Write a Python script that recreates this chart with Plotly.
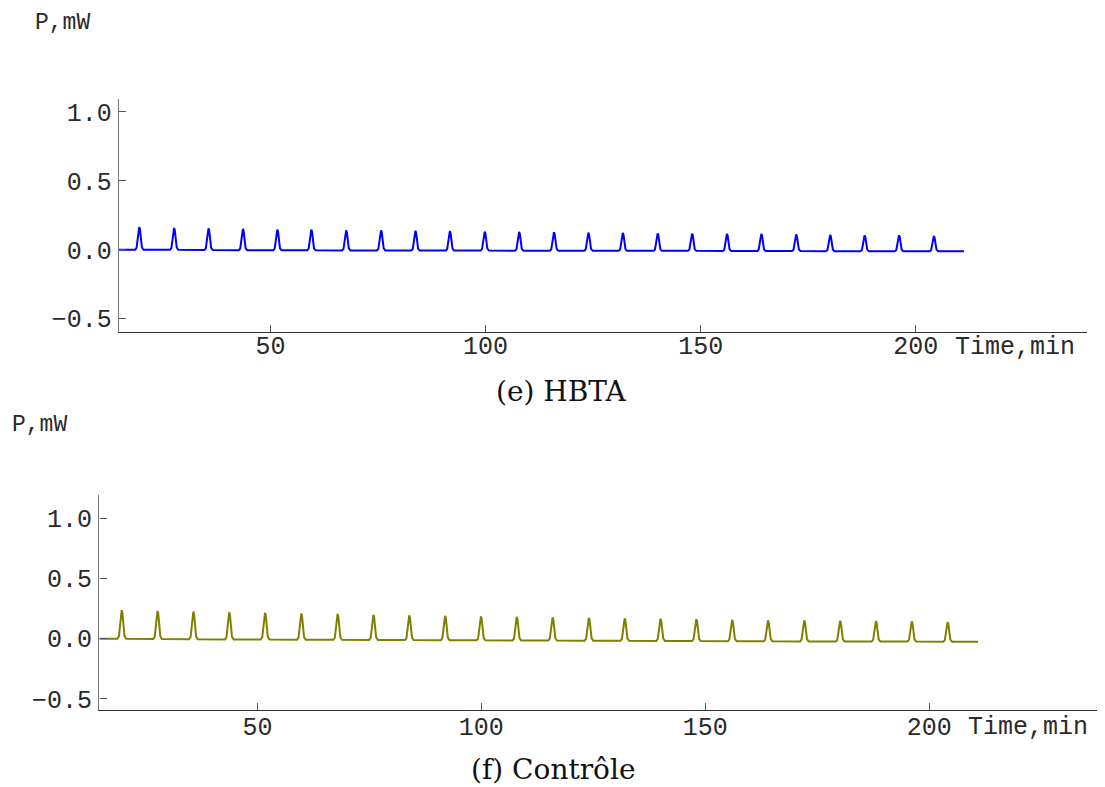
import plotly.graph_objects as go

# ---------------- data ----------------
# (e) HBTA  -- peak times (min), apex values (mW), local baseline (mW)
hbta_peak_t = [19.5, 27.6, 35.6, 43.6, 51.6, 59.5, 67.6, 75.7, 83.7, 91.7, 99.8, 107.8,
               115.9, 123.9, 131.9, 140.0, 148.0, 156.1, 164.1, 172.2, 180.1, 188.1, 196.1, 204.2]
hbta_peak_p = [0.165, 0.158, 0.155, 0.151, 0.146, 0.146, 0.141, 0.141, 0.138, 0.135, 0.132, 0.129,
               0.127, 0.124, 0.122, 0.119, 0.117, 0.115, 0.115, 0.112, 0.108, 0.105, 0.105, 0.100]
hbta_base = [0.000, 0.000, -0.002, -0.003, -0.004, -0.004, -0.005, -0.005, -0.006, -0.006, -0.006, -0.007,
             -0.007, -0.007, -0.008, -0.008, -0.008, -0.009, -0.009, -0.009, -0.010, -0.010, -0.010, -0.010]
hbta_start, hbta_end = 14.8, 211.2

# (f) Contrôle
ctrl_peak_t = [19.7, 27.7, 35.7, 43.7, 51.7, 59.8, 67.9, 75.9, 83.9, 91.9, 99.9, 107.9,
               115.9, 124.0, 132.0, 140.0, 148.0, 156.0, 164.0, 172.1, 180.1, 188.1, 196.1, 204.1]
ctrl_peak_p = [0.237, 0.231, 0.226, 0.220, 0.215, 0.210, 0.206, 0.198, 0.194, 0.190, 0.186, 0.182,
               0.178, 0.174, 0.170, 0.166, 0.162, 0.157, 0.152, 0.152, 0.149, 0.146, 0.144, 0.138]
ctrl_base = [0.000, -0.002, -0.004, -0.006, -0.007, -0.008, -0.009, -0.010, -0.011, -0.012, -0.013, -0.014,
             -0.015, -0.016, -0.017, -0.018, -0.019, -0.020, -0.021, -0.022, -0.022, -0.023, -0.023, -0.024]
ctrl_start, ctrl_end = 14.7, 210.9

# shape of one calibration peak (min offset, fraction of height)
peak_offsets = [-0.95, -0.62, -0.38, -0.17, 0.0, 0.17, 0.38, 0.62, 1.0]
peak_fracs = [0.0, 0.08, 0.45, 0.9, 1.0, 0.9, 0.45, 0.1, 0.0]

x_ticks = [50, 100, 150, 200]
y_ticks = [-0.5, 0.0, 0.5, 1.0]
y_ticktext = ["\u22120.5", "0.0", "0.5", "1.0"]


def build(start, end, times, apex, base):
    xs, ys = [start], [base[0]]
    for t, a, b in zip(times, apex, base):
        for o, f in zip(peak_offsets, peak_fracs):
            xs.append(t + o)
            ys.append(b + (a - b) * f)
    xs.append(end)
    ys.append(base[-1])
    return xs, ys


hx, hy = build(hbta_start, hbta_end, hbta_peak_t, hbta_peak_p, hbta_base)
cx, cy = build(ctrl_start, ctrl_end, ctrl_peak_t, ctrl_peak_p, ctrl_base)

fig = go.Figure()
fig.add_trace(go.Scatter(x=hx, y=hy, mode="lines", line=dict(color="#0000ff", width=2),
                         xaxis="x", yaxis="y", showlegend=False, hoverinfo="skip"))
fig.add_trace(go.Scatter(x=cx, y=cy, mode="lines", line=dict(color="#808000", width=2),
                         xaxis="x2", yaxis="y2", showlegend=False, hoverinfo="skip"))

# page body has an 8px margin: figure is sized/offset so it lands on the target pixels
OFF = 8
W, H = 1105 - OFF, 787 - OFF
tickfont = dict(family="Liberation Mono, Courier New, monospace", size=25, color="#2a2a2a")


def px_x(p):
    return (p - OFF) / W


def px_y(p):
    return (H - (p - OFF)) / H


ax_common = dict(showgrid=False, zeroline=False, showline=True, ticks="inside", ticklen=7,
                 tickwidth=1, tickcolor="#555555", tickfont=tickfont)

fig.update_layout(
    width=W, height=H, margin=dict(l=0, r=0, t=0, b=0),
    paper_bgcolor="white", plot_bgcolor="white",
    xaxis=dict(domain=[px_x(119), px_x(1087)], range=[14.8, 239.8], anchor="y",
               tickvals=x_ticks, linecolor="#333333", linewidth=1.2,
               ticklabelstandoff=-9, **ax_common),
    yaxis=dict(domain=[px_y(334), px_y(99.3)], range=[-0.596, 1.096], anchor="x",
               tickvals=y_ticks, ticktext=y_ticktext, linecolor="#777777", linewidth=1.4,
               ticklabelstandoff=1, **ax_common),
    xaxis2=dict(domain=[px_x(99.3), px_x(1103)], range=[14.7, 238.8], anchor="y2",
                tickvals=x_ticks, linecolor="#333333", linewidth=1.2,
                ticklabelstandoff=-7, **ax_common),
    yaxis2=dict(domain=[px_y(715), px_y(497.7)], range=[-0.596, 1.198], anchor="x2",
                tickvals=y_ticks, ticktext=y_ticktext, linecolor="#777777", linewidth=1.4,
                ticklabelstandoff=1, **ax_common),
)

mono_small = dict(family="Liberation Mono, Courier New, monospace", size=23, color="#2a2a2a")
serif = dict(family="DejaVu Serif, serif", size=28, color="#111111")

annotations = [
    dict(text="P,mW", x=px_x(33), y=px_y(23), xanchor="left", yanchor="middle", font=mono_small),
    dict(text="Time,min", x=px_x(953), y=px_y(350), xanchor="left", yanchor="middle", font=tickfont),
    dict(text="(e) HBTA", x=px_x(561), y=px_y(394), xanchor="center", yanchor="middle", font=serif),
    dict(text="P,mW", x=px_x(10), y=px_y(428), xanchor="left", yanchor="middle", font=mono_small),
    dict(text="Time,min", x=px_x(966), y=px_y(732), xanchor="left", yanchor="middle", font=tickfont),
    dict(text="(f) Contrôle", x=px_x(553), y=px_y(774), xanchor="center", yanchor="middle", font=serif),
]
for a in annotations:
    a.update(xref="paper", yref="paper", showarrow=False)
fig.update_layout(annotations=annotations)

fig.write_html("out.html")
